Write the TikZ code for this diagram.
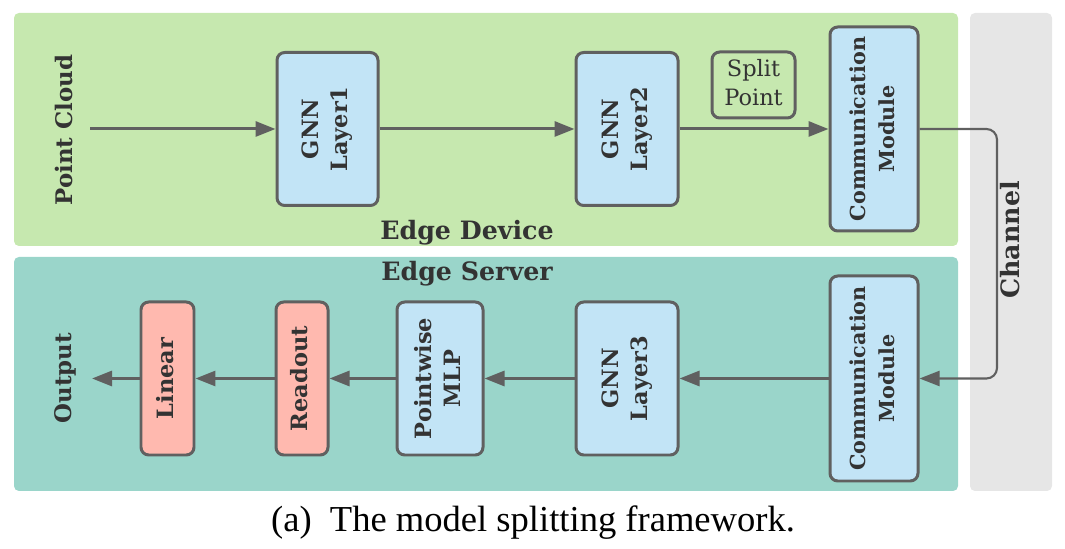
\documentclass[tikz,border=0pt]{standalone}
\usepackage{graphicx}
\usepackage{fontspec}
\setmainfont{DejaVu Serif}
\newfontfamily\capfont{Liberation Serif}
\usetikzlibrary{arrows.meta}

\definecolor{devgreen}{HTML}{C6E8AF}
\definecolor{srvteal}{HTML}{9AD5CA}
\definecolor{chgray}{HTML}{E6E6E6}
\definecolor{boxblue}{HTML}{C2E4F6}
\definecolor{boxred}{HTML}{FFB9AF}
\definecolor{edgegray}{HTML}{606060}
\definecolor{txtgray}{HTML}{333333}

\newcommand{\vlab}[1]{\rotatebox{90}{\begin{tabular}{@{}c@{}}#1\end{tabular}}}

\begin{document}
\begin{tikzpicture}[x=0.1mm,y=-0.1mm,
		layer/.style={draw=edgegray,line width=0.85pt,rounded corners=2.2pt,fill=boxblue,inner sep=0pt,
			text=txtgray,font=\fontsize{6.4}{8.2}\selectfont\bfseries},
		head/.style={layer,fill=boxred},
		comm/.style={layer,minimum width=8.8mm,font=\fontsize{5.9}{8.2}\selectfont\bfseries},
		tag/.style={text=txtgray,font=\fontsize{7.2}{8.6}\selectfont\bfseries},
		side/.style={tag,rotate=90,font=\fontsize{6.5}{8}\selectfont\bfseries},
		flow/.style={draw=edgegray,line width=0.85pt,-{Triangle[length=2mm,width=1.5mm]}},
		region/.style={rounded corners=1.4pt}]
		\useasboundingbox (0,0) rectangle (1065,549);
		% regions
		\fill[region,devgreen] (14,13) rectangle (958,246);
		\fill[region,srvteal] (14,257) rectangle (958,491);
		\fill[region,chgray] (970,13) rectangle (1052,491);
		\node[tag] (dev) at (467,233) {Edge Device};
		\node[tag] (srv) at (467,274) {Edge Server};
		\node[tag,rotate=90] (chan) at (1010,240) {Channel};
		% edge device
		\node[side] (pc) at (64,130) {Point Cloud};
		\node[layer,minimum width=10.1mm,minimum height=15.3mm] (gnn1) at (327.5,129) {\vlab{GNN\\Layer1}};
		\node[layer,minimum width=10.2mm,minimum height=15.3mm] (gnn2) at (627,129) {\vlab{GNN\\Layer2}};
		\node[layer,fill=devgreen,minimum width=8.3mm,minimum height=6.6mm,font=\fontsize{6.4}{8.2}\selectfont] (split) at (753.5,85) {\begin{tabular}{@{}c@{}}Split\\Point\end{tabular}};
		\node[comm,minimum height=20.4mm] (comA) at (874,129) {\vlab{Communication\\Module}};
		% edge server
		\node[comm,minimum height=20.5mm] (comB) at (874,378.5) {\vlab{Communication\\Module}};
		\node[layer,minimum width=10.2mm,minimum height=15.3mm] (gnn3) at (627,378.5) {\vlab{GNN\\Layer3}};
		\node[layer,minimum width=8.6mm,minimum height=15.3mm] (mlp) at (440,378.5) {\vlab{Pointwise\\MLP}};
		\node[head,minimum width=5.2mm,minimum height=15.3mm] (read) at (302,378.5) {\vlab{Readout}};
		\node[head,minimum width=5.3mm,minimum height=15.3mm] (lin) at (167.5,378.5) {\vlab{Linear}};
		\node[side] (out) at (65,378) {Output};
		% connectors
		\coordinate (pcin) at (90,129);
		\coordinate (outp) at (92,378.5);
		\coordinate (chtop) at (997,129);
		\coordinate (chbot) at (997,378.5);
		\draw[flow] (pcin) -- (gnn1);
		\draw[flow] (gnn1) -- (gnn2);
		\draw[flow] (gnn2) -- (comA);
		\draw[flow,line width=0.6pt,rounded corners=3pt] (comA.east) -- (chtop) -- (chbot) -- (comB.east);
		\draw[flow] (comB) -- (gnn3);
		\draw[flow] (gnn3) -- (mlp);
		\draw[flow] (mlp) -- (read);
		\draw[flow] (read) -- (lin);
		\draw[flow] (lin) -- (outp);
		% caption
		\node[font=\capfont\fontsize{10.4}{12}\selectfont] (cap) at (533,523) {(a)\ \ The model splitting framework.};
\end{tikzpicture}
\end{document}
